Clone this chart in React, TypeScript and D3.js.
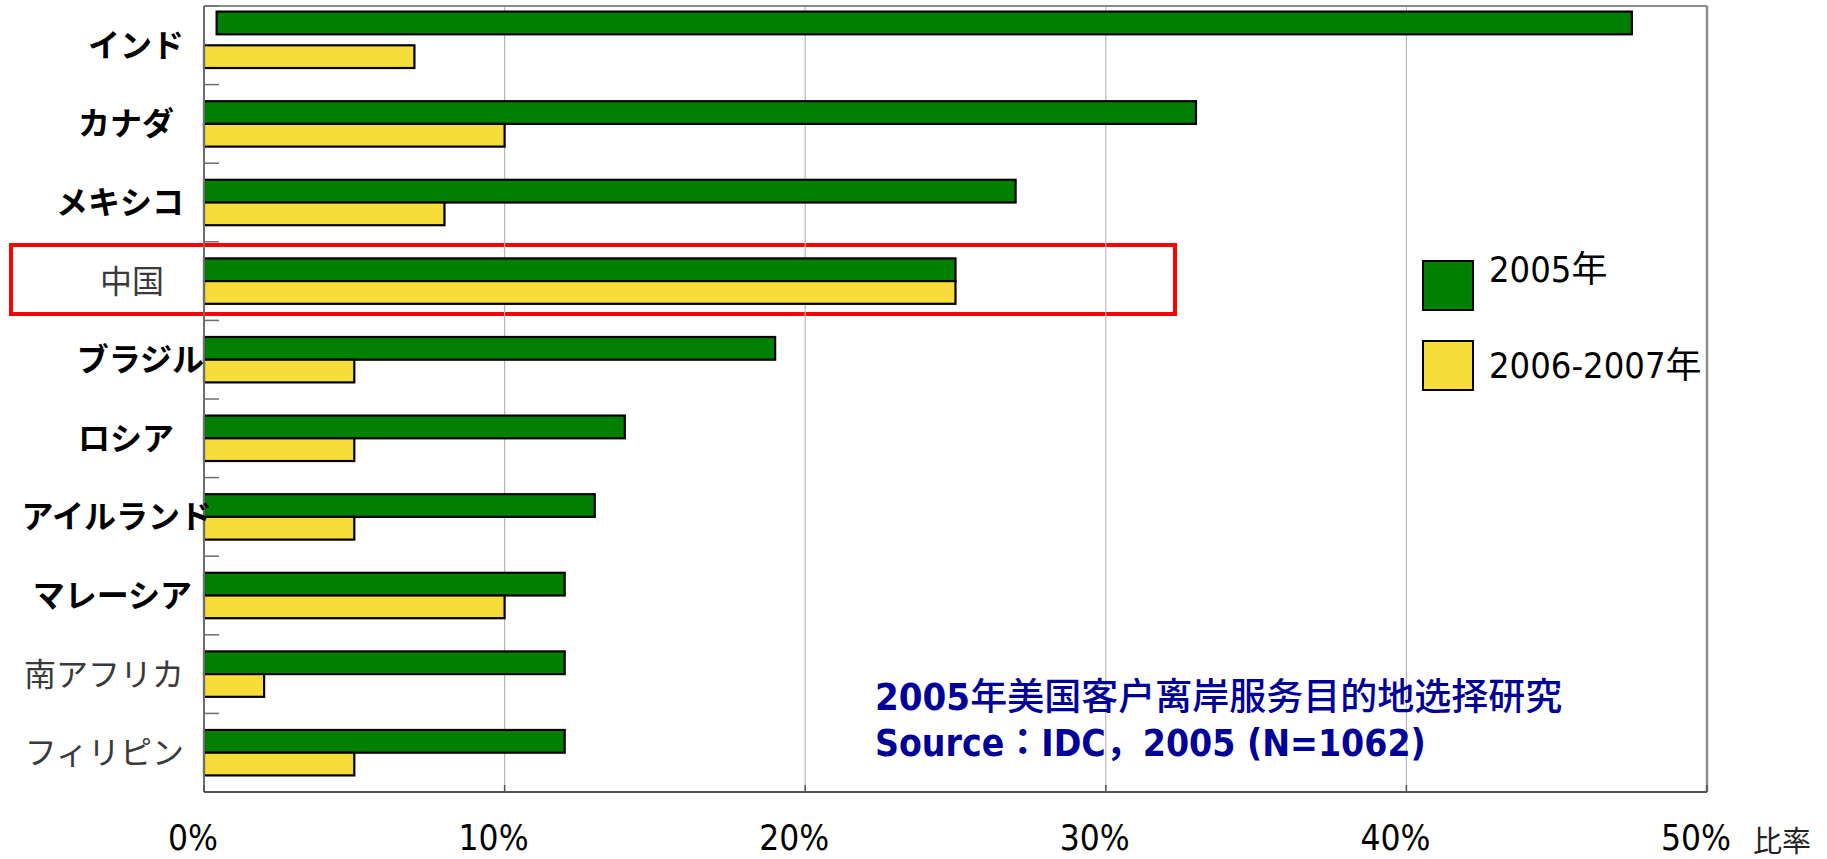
import React, { useEffect, useRef } from 'react';
import * as d3 from 'd3';

// destinations, top to bottom
const categories = [
  'インド',
  'カナダ',
  'メキシコ',
  '中国',
  'ブラジル',
  'ロシア',
  'アイルランド',
  'マレーシア',
  '南アフリカ',
  'フィリピン',
];
const values2005 = [47.5, 33, 27, 25, 19, 14, 13, 12, 12, 12];
const values2006to2007 = [7, 10, 8, 25, 5, 5, 5, 10, 2, 5];
// the India 2005 bar in the original does not start at zero
const start2005 = [0.42, 0, 0, 0, 0, 0, 0, 0, 0, 0];
const seriesNames = ['2005年', '2006-2007年'];
const xTicks = [0, 10, 20, 30, 40, 50];
const noteLine1 = ['2005', '年美国客户离岸服务目的地选择研究'];
const noteLine2 = 'Source：IDC，2005 (N=1062)';

const GREEN = '#008000';
const YELLOW = '#f8dd3a';
const LATIN = "'DejaVu Sans Condensed', 'DejaVu Sans', 'Noto Sans CJK JP', sans-serif";
const CJK = "'Noto Sans CJK JP', sans-serif";

// labels that are drawn thin and grey in the original
const plainLabels = new Set(['中国', '南アフリカ', 'フィリピン']);
// the text boxes in the original are not aligned to one edge
const labelNudge: Record<string, number> = {
  カナダ: -10,
  中国: -20,
  ブラジル: 20,
  ロシア: -10,
  アイルランド: 28,
  マレーシア: 8,
};

export default function App() {
  const ref = useRef<SVGSVGElement>(null);

  useEffect(() => {
    const svg = d3.select(ref.current);
    svg.selectAll('*').remove();

    const margin = { top: 6, right: 120, bottom: 67, left: 204 };
    const width = 1827;
    const height = 859;

    const x = d3
      .scaleLinear()
      .domain([0, 50])
      .range([margin.left, width - margin.right]);
    const y = d3
      .scaleBand()
      .domain(categories)
      .range([margin.top, height - margin.bottom]);
    const bw = y.bandwidth();
    const bh = bw * 0.289;
    const y0 = margin.top;
    const y1 = height - margin.bottom;

    // red highlight around China
    svg
      .append('rect')
      .attr('x', 11)
      .attr('y', 245)
      .attr('width', 1164)
      .attr('height', 69)
      .attr('fill', 'none')
      .attr('stroke', '#ff0000')
      .attr('stroke-width', 4);

    // vertical grid
    svg
      .append('g')
      .selectAll('line')
      .data(xTicks.slice(1, -1))
      .enter()
      .append('line')
      .attr('x1', (d) => x(d))
      .attr('x2', (d) => x(d))
      .attr('y1', y0)
      .attr('y2', y1)
      .attr('stroke', '#b8b8b8')
      .attr('stroke-width', 1.2);

    // frame: top and right in grey
    svg
      .append('line')
      .attr('x1', x(0))
      .attr('x2', x(50))
      .attr('y1', y0)
      .attr('y2', y0)
      .attr('stroke', '#8c8c8c')
      .attr('stroke-width', 2);
    svg
      .append('line')
      .attr('x1', x(50))
      .attr('x2', x(50))
      .attr('y1', y0)
      .attr('y2', y1)
      .attr('stroke', '#8c8c8c')
      .attr('stroke-width', 2.5);

    // bars
    const groups = svg
      .append('g')
      .selectAll('g')
      .data(categories)
      .enter()
      .append('g');

    groups
      .append('rect')
      .attr('x', (d, i) => x(start2005[i]))
      .attr('y', (d, i) => y(d)! + bw / 2 - bh - (i === 0 ? 11 : 0))
      .attr('width', (d, i) => x(values2005[i]) - x(start2005[i]))
      .attr('height', bh)
      .attr('fill', GREEN)
      .attr('stroke', '#000')
      .attr('stroke-width', 2.2);

    groups
      .append('rect')
      .attr('x', x(0))
      .attr('y', (d) => y(d)! + bw / 2)
      .attr('width', (d, i) => x(values2006to2007[i]) - x(0))
      .attr('height', bh)
      .attr('fill', YELLOW)
      .attr('stroke', '#000')
      .attr('stroke-width', 2.2);

    // left axis with inward ticks on the band edges
    svg
      .append('line')
      .attr('x1', x(0))
      .attr('x2', x(0))
      .attr('y1', y0)
      .attr('y2', y1)
      .attr('stroke', '#6e6e6e')
      .attr('stroke-width', 2);
    svg
      .append('g')
      .selectAll('line')
      .data([...categories.map((c) => y(c)!), y1])
      .enter()
      .append('line')
      .attr('x1', x(0))
      .attr('x2', x(0) + 15)
      .attr('y1', (d) => d)
      .attr('y2', (d) => d)
      .attr('stroke', '#6e6e6e')
      .attr('stroke-width', 1.5);

    // bottom axis
    svg
      .append('line')
      .attr('x1', x(0))
      .attr('x2', x(50))
      .attr('y1', y1)
      .attr('y2', y1)
      .attr('stroke', '#555')
      .attr('stroke-width', 2);
    svg
      .append('g')
      .selectAll('line')
      .data(xTicks)
      .enter()
      .append('line')
      .attr('x1', (d) => x(d))
      .attr('x2', (d) => x(d))
      .attr('y1', y1)
      .attr('y2', y1 - 7)
      .attr('stroke', '#555')
      .attr('stroke-width', 1.5);

    svg
      .append('g')
      .selectAll('text')
      .data(xTicks)
      .enter()
      .append('text')
      .attr('x', (d) => x(d) - 11)
      .attr('y', 850)
      .attr('text-anchor', 'middle')
      .attr('font-family', LATIN)
      .attr('font-size', 35)
      .attr('fill', '#000')
      .text((d) => `${d}%`);

    svg
      .append('text')
      .attr('x', 1753)
      .attr('y', 852)
      .attr('font-family', CJK)
      .attr('font-size', 29)
      .attr('fill', '#222')
      .text('比率');

    // category labels
    svg
      .append('g')
      .selectAll('text')
      .data(categories)
      .enter()
      .append('text')
      .attr('x', (d) => 184 + (labelNudge[d] || 0))
      .attr('y', (d) => y(d)! + bw / 2)
      .attr('dy', '0.36em')
      .attr('text-anchor', 'end')
      .attr('font-family', CJK)
      .attr('font-size', 32)
      .attr('font-weight', (d) => (plainLabels.has(d) ? 400 : 700))
      .attr('fill', (d) => (plainLabels.has(d) ? '#3a3a3a' : '#000'))
      .text((d) => d);

    // legend
    const legend = svg
      .append('g')
      .selectAll('g')
      .data(seriesNames)
      .enter()
      .append('g')
      .attr('transform', (d, i) => `translate(1423,${261 + i * 80})`);
    legend
      .append('rect')
      .attr('width', 50)
      .attr('height', 49)
      .attr('fill', (d, i) => (i === 0 ? GREEN : YELLOW))
      .attr('stroke', '#000')
      .attr('stroke-width', 2);
    legend
      .append('text')
      .attr('x', 66)
      .attr('y', (d, i) => (i === 0 ? 21 : 37))
      .attr('font-family', LATIN)
      .attr('font-size', 36)
      .attr('fill', '#000')
      .text((d) => d);

    // source note
    const note1 = svg
      .append('text')
      .attr('x', 875)
      .attr('y', 710)
      .attr('fill', '#000099');
    note1
      .append('tspan')
      .attr('font-family', LATIN)
      .attr('font-size', 38)
      .attr('font-weight', 700)
      .text(noteLine1[0]);
    note1
      .append('tspan')
      .attr('font-family', CJK)
      .attr('font-size', 37)
      .attr('font-weight', 500)
      .text(noteLine1[1]);

    svg
      .append('text')
      .attr('x', 875)
      .attr('y', 756)
      .attr('font-family', LATIN)
      .attr('font-size', 37)
      .attr('font-weight', 700)
      .attr('fill', '#000099')
      .text(noteLine2);
  }, []);

  return (
    <svg
      ref={ref}
      width={1827}
      height={859}
      style={{ position: 'absolute', left: 0, top: 0, background: '#fff' }}
    />
  );
}
